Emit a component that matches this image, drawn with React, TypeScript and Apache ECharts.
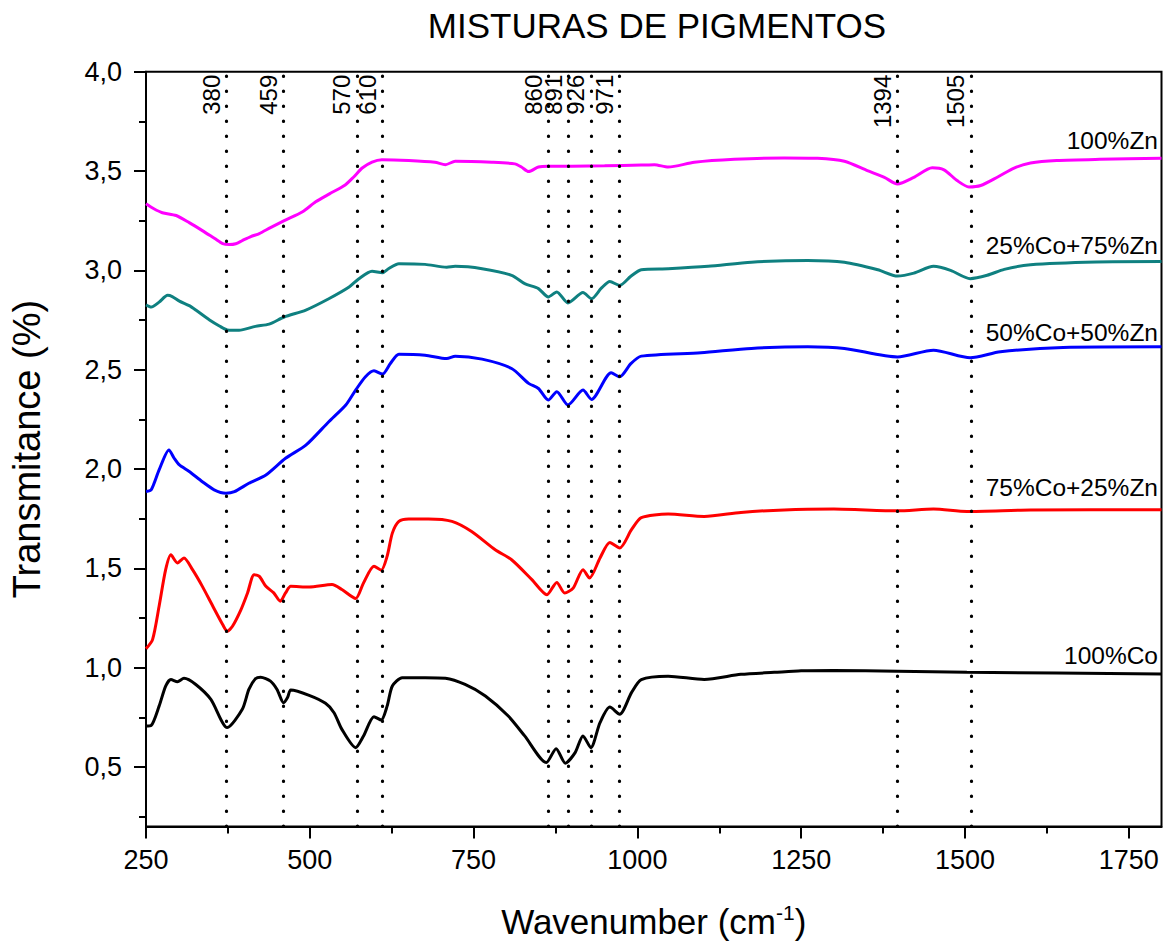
import React, { useEffect, useRef } from "react";
import * as echarts from "echarts";

const FONT = "'Liberation Sans', Arial, Helvetica, sans-serif";

// ---- axis ticks ----
const xMajorTicks = [250, 500, 750, 1000, 1250, 1500, 1750];
const xMinorTicks = [375, 625, 875, 1125, 1375, 1625];
const yMajorTicks = [0.5, 1.0, 1.5, 2.0, 2.5, 3.0, 3.5, 4.0];
const yMinorTicks = [0.25, 0.75, 1.25, 1.75, 2.25, 2.75, 3.25, 3.75];

// ---- marked bands (line position, label text) ----
const peakPositions = [373, 460, 572, 611, 864, 895, 929, 972, 1397, 1509];
const peakLabels = ["380", "459", "570", "610", "860", "891", "926", "971", "1394", "1505"];

// ---- series ----
const seriesNames = ["100%Zn", "25%Co+75%Zn", "50%Co+50%Zn", "75%Co+25%Zn", "100%Co"];
const seriesColors = ["#FF00FF", "#0F8080", "#0000FF", "#FF0000", "#000000"];

const zn100: [number, number][] = [
  [250, 3.335], [262, 3.31], [275, 3.29], [296, 3.276], [316, 3.24], [336, 3.2], [355, 3.16],
  [367, 3.135], [377, 3.13], [387, 3.134], [397, 3.15], [410, 3.17], [423, 3.185], [440, 3.215],
  [461, 3.25], [489, 3.295], [509, 3.345], [530, 3.385], [554, 3.43], [567, 3.47], [580, 3.515],
  [595, 3.545], [610, 3.557], [651, 3.553], [691, 3.544], [707, 3.532], [722, 3.549], [778, 3.544],
  [813, 3.536], [823, 3.52], [834, 3.497], [849, 3.52], [864, 3.524], [900, 3.524], [950, 3.526],
  [1006, 3.53], [1026, 3.532], [1047, 3.52], [1087, 3.544], [1148, 3.559], [1224, 3.566],
  [1275, 3.564], [1316, 3.549], [1351, 3.502], [1377, 3.468], [1397, 3.435], [1422, 3.468],
  [1450, 3.516], [1468, 3.506], [1488, 3.452], [1506, 3.42], [1524, 3.427], [1550, 3.47],
  [1575, 3.515], [1600, 3.54], [1640, 3.553], [1706, 3.559], [1800, 3.564],
];

const co25zn75: [number, number][] = [
  [250, 2.826], [258, 2.815], [270, 2.84], [283, 2.874], [290, 2.868], [301, 2.845], [316, 2.822],
  [326, 2.8], [347, 2.75], [362, 2.72], [374, 2.7], [392, 2.698], [417, 2.718], [438, 2.729],
  [461, 2.765], [494, 2.8], [529, 2.857], [560, 2.916], [575, 2.958], [595, 2.996], [611, 2.988],
  [620, 3.008], [636, 3.033], [676, 3.03], [709, 3.016], [722, 3.02], [763, 3.008], [808, 2.975],
  [828, 2.933], [849, 2.908], [864, 2.866], [877, 2.891], [894, 2.836], [917, 2.888], [930, 2.857],
  [945, 2.91], [958, 2.944], [973, 2.924], [990, 2.97], [1006, 3.003], [1047, 3.008], [1108, 3.02],
  [1174, 3.041], [1260, 3.05], [1316, 3.041], [1367, 3.003], [1397, 2.971], [1422, 2.986],
  [1452, 3.02], [1478, 3.0], [1508, 2.958], [1534, 2.975], [1560, 3.005], [1600, 3.028],
  [1700, 3.042], [1800, 3.044],
];

const co50zn50: [number, number][] = [
  [250, 1.886], [258, 1.895], [270, 1.995], [285, 2.096], [293, 2.054], [301, 2.02], [316, 1.987],
  [336, 1.936], [354, 1.895], [372, 1.878], [385, 1.886], [407, 1.928], [433, 1.97], [463, 2.054],
  [494, 2.12], [529, 2.238], [555, 2.322], [570, 2.397], [585, 2.464], [598, 2.494], [611, 2.478],
  [623, 2.531], [636, 2.578], [676, 2.573], [709, 2.556], [722, 2.568], [763, 2.553], [808, 2.506],
  [834, 2.431], [849, 2.405], [864, 2.347], [877, 2.389], [894, 2.322], [917, 2.397], [930, 2.35],
  [960, 2.484], [973, 2.464], [990, 2.53], [1006, 2.568], [1097, 2.585], [1174, 2.607],
  [1260, 2.615], [1316, 2.607], [1397, 2.564], [1452, 2.598], [1508, 2.56], [1554, 2.59],
  [1650, 2.612], [1800, 2.615],
];

const co75zn25: [number, number][] = [
  [250, 1.095], [260, 1.141], [270, 1.309], [280, 1.493], [288, 1.568], [298, 1.527], [308, 1.552],
  [321, 1.493], [336, 1.409], [352, 1.309], [367, 1.217], [374, 1.183], [382, 1.208], [395, 1.292],
  [405, 1.376], [415, 1.468], [423, 1.459], [433, 1.409], [445, 1.376], [455, 1.334], [463, 1.376],
  [471, 1.409], [499, 1.406], [534, 1.418], [549, 1.393], [570, 1.348], [582, 1.426], [598, 1.51],
  [609, 1.49], [618, 1.56], [626, 1.677], [636, 1.736], [651, 1.748], [681, 1.748], [717, 1.736],
  [747, 1.685], [783, 1.593], [808, 1.543], [839, 1.443], [862, 1.367], [877, 1.429], [889, 1.376],
  [902, 1.4], [917, 1.493], [927, 1.451], [943, 1.552], [958, 1.63], [973, 1.602], [991, 1.694],
  [1006, 1.755], [1047, 1.773], [1102, 1.761], [1158, 1.781], [1224, 1.794], [1300, 1.798],
  [1397, 1.789], [1452, 1.798], [1503, 1.786], [1600, 1.793], [1800, 1.795],
];

const co100: [number, number][] = [
  [250, 0.706], [258, 0.709], [270, 0.806], [280, 0.907], [288, 0.94], [298, 0.929], [308, 0.946],
  [326, 0.915], [349, 0.84], [374, 0.698], [397, 0.79], [407, 0.89], [417, 0.944], [425, 0.952],
  [440, 0.932], [450, 0.89], [460, 0.823], [466, 0.849], [471, 0.887], [499, 0.86], [524, 0.82],
  [537, 0.773], [549, 0.689], [570, 0.597], [582, 0.656], [598, 0.753], [609, 0.736], [618, 0.806],
  [626, 0.907], [641, 0.949], [676, 0.949], [707, 0.946], [737, 0.915], [768, 0.857], [803, 0.756],
  [828, 0.656], [861, 0.522], [876, 0.592], [890, 0.519], [905, 0.572], [917, 0.656], [929, 0.597],
  [943, 0.723], [958, 0.801], [973, 0.765], [991, 0.874], [1006, 0.94], [1047, 0.957], [1102, 0.94],
  [1158, 0.966], [1209, 0.976], [1250, 0.984], [1300, 0.986], [1397, 0.982], [1503, 0.977],
  [1800, 0.968],
];

const seriesData = [zn100, co25zn75, co50zn50, co75zn25, co100];

// label layout (pixel centres at the right of the plot)
const seriesLabelY = [140, 245, 332, 487, 655];

const X_MIN = 250;
const X_MAX = 1800;
const Y_MIN = 0.2;
const Y_MAX = 4.0;

export default function App() {
  const ref = useRef<HTMLDivElement>(null);

  useEffect(() => {
    if (!ref.current) return;
    const chart = echarts.init(ref.current, undefined, { renderer: "svg" });

    const axisLineStyle = { color: "#000", width: 2 };

    const option: any = {
      animation: false,
      backgroundColor: "#fff",
      grid: {
        left: 143,
        right: 6.5,
        top: 71.7,
        bottom: 116.3,
        show: true,
        borderColor: "#000",
        borderWidth: 2,
        backgroundColor: "transparent",
      },
      xAxis: [
        {
          type: "value",
          min: X_MIN,
          max: X_MAX,
          position: "bottom",
          axisLine: { show: true, lineStyle: axisLineStyle },
          axisTick: { show: true, inside: false, length: 12, customValues: xMajorTicks, lineStyle: axisLineStyle },
          axisLabel: {
            customValues: xMajorTicks,
            fontSize: 27,
            color: "#000",
            fontFamily: FONT,
            margin: 20,
            formatter: (v: number) => String(v),
          },
          splitLine: { show: false },
          name: "{a|Wavenumber (cm}{b|-1}{a|)}",
          nameLocation: "middle",
          nameGap: 75,
          nameTextStyle: {
            rich: {
              a: { fontSize: 35, fontFamily: FONT, color: "#000", lineHeight: 40 },
              b: { fontSize: 21, fontFamily: FONT, color: "#000", verticalAlign: "top", lineHeight: 22 },
            },
          },
        },
        {
          type: "value",
          min: X_MIN,
          max: X_MAX,
          position: "bottom",
          axisLine: { show: false },
          axisTick: { show: true, inside: false, length: 7, customValues: xMinorTicks, lineStyle: axisLineStyle },
          axisLabel: { show: false },
          splitLine: { show: false },
        },
      ],
      yAxis: [
        {
          type: "value",
          min: Y_MIN,
          max: Y_MAX,
          position: "left",
          axisLine: { show: true, lineStyle: axisLineStyle },
          axisTick: { show: true, inside: false, length: 12, customValues: yMajorTicks, lineStyle: axisLineStyle },
          axisLabel: {
            customValues: yMajorTicks,
            fontSize: 27,
            color: "#000",
            fontFamily: FONT,
            margin: 24,
            formatter: (v: number) => v.toFixed(1).replace(".", ","),
          },
          splitLine: { show: false },
          name: "Transmitance (%)",
          nameLocation: "middle",
          nameGap: 100,
          nameTextStyle: { fontSize: 38, fontFamily: FONT, color: "#000" },
        },
        {
          type: "value",
          min: Y_MIN,
          max: Y_MAX,
          position: "left",
          axisLine: { show: false },
          axisTick: { show: true, inside: false, length: 7, customValues: yMinorTicks, lineStyle: axisLineStyle },
          axisLabel: { show: false },
          splitLine: { show: false },
        },
      ],
      series: seriesData.map((d, i) => {
        const s: any = {
          type: "line",
          name: seriesNames[i],
          xAxisIndex: 0,
          yAxisIndex: 0,
          data: d,
          showSymbol: false,
          symbol: "none",
          smooth: 0.25,
          color: seriesColors[i],
          lineStyle: { width: 3, color: seriesColors[i] },
          silent: true,
          z: 3,
        };
        if (i === 0) {
          s.markLine = {
            silent: true,
            symbol: ["none", "none"],
            animation: false,
            lineStyle: { color: "#000", width: 3.2, type: [0.5, 14.5], cap: "round" },
            label: {
              show: true,
              position: "insideEndTop",
              formatter: "{b}",
              color: "#000",
              fontSize: 24,
              fontFamily: FONT,
              distance: 3,
            },
            emphasis: { disabled: true },
            data: peakPositions.map((x, k) => [
              { coord: [x, Y_MIN], name: peakLabels[k] },
              { coord: [x, Y_MAX] },
            ]),
          };
        }
        return s;
      }),
      graphic: [
        {
          type: "text",
          x: 657,
          y: 25,
          style: {
            text: "MISTURAS DE PIGMENTOS",
            fontSize: 35,
            fontFamily: FONT,
            fill: "#000",
            align: "center",
            verticalAlign: "middle",
          },
        },
        ...seriesNames.map((n, i) => ({
          type: "text",
          right: 10,
          y: seriesLabelY[i],
          style: {
            text: n,
            fontSize: 24.5,
            fontFamily: FONT,
            fill: "#000",
            verticalAlign: "middle",
          },
        })),
      ],
    };

    chart.setOption(option);
    return () => chart.dispose();
  }, []);

  return (
    <div
      ref={ref}
      style={{ position: "fixed", left: 0, top: 0, width: 1168, height: 944, background: "#fff" }}
    />
  );
}
